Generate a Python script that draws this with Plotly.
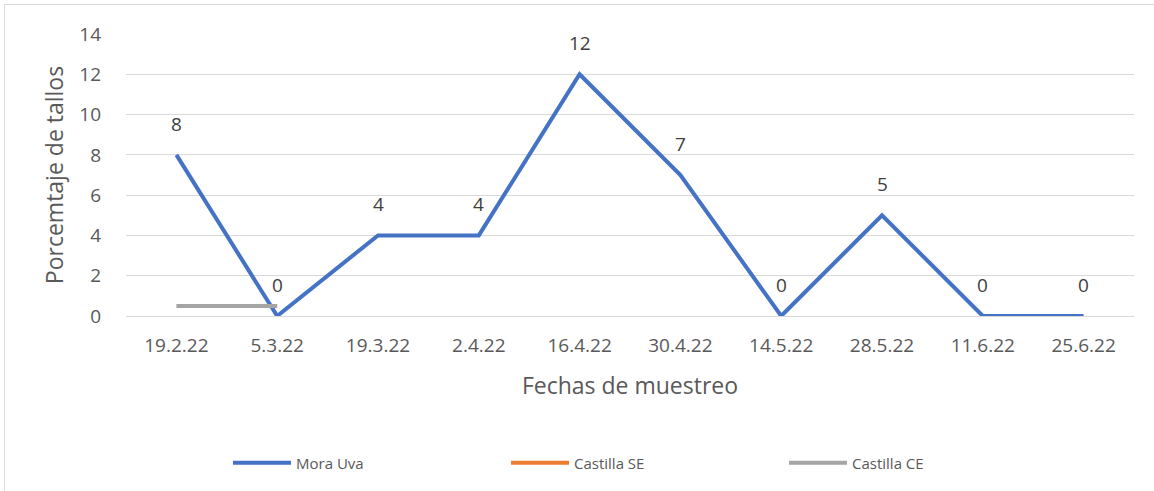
import plotly.graph_objects as go

fechas = ["19.2.22", "5.3.22", "19.3.22", "2.4.22", "16.4.22", "30.4.22",
          "14.5.22", "28.5.22", "11.6.22", "25.6.22"]
mora_uva = [8, 0, 4, 4, 12, 7, 0, 5, 0, 0]
castilla_se = [None] * 10
castilla_ce = [0.5, 0.5, None, None, None, None, None, None, None, None]

W, H = 1154, 491
ml, mr, mt, mb = 126, 20, 34, 175
font = "Open Sans"

fig = go.Figure()
fig.add_trace(go.Scatter(x=fechas, y=mora_uva, mode="lines", name="Mora Uva",
                         line=dict(color="#4472C4", width=4)))
fig.add_trace(go.Scatter(x=fechas, y=castilla_se, mode="lines", name="Castilla SE",
                         line=dict(color="#ED7D31", width=4)))
fig.add_trace(go.Scatter(x=fechas, y=castilla_ce, mode="lines", name="Castilla CE",
                         line=dict(color="#A5A5A5", width=4)))

for f, v in zip(fechas, mora_uva):
    fig.add_annotation(x=f, y=v, text=str(v), showarrow=False, yshift=31,
                       font=dict(family=font, size=19, color="#404040"))

pw = W - ml - mr
ph = H - mt - mb
x0 = (4.5 - ml) / pw
x1 = (W + 10 - ml) / pw
y1 = (H - mb - 4.5) / ph
y0 = (H - mb - (H + 10)) / ph
fig.add_shape(type="rect", xref="paper", yref="paper", x0=x0, x1=x1, y0=y0, y1=y1,
              line=dict(color="#d9d9d9", width=1), layer="below")

fig.update_layout(
    width=W, height=H,
    margin=dict(l=ml, r=mr, t=mt, b=mb, autoexpand=False),
    paper_bgcolor="white", plot_bgcolor="white",
    font=dict(family=font, color="#595959"),
    showlegend=True,
    legend=dict(orientation="h", x=(228 - ml) / pw, xanchor="left", y=(H - mb - 463) / ph,
                yanchor="middle", entrywidth=205, font=dict(size=15, color="#595959"),
                itemwidth=58),
    xaxis=dict(type="category", range=[-0.5, 9.5], automargin=False,
               showgrid=False, showline=False, zeroline=False,
               tickfont=dict(size=19, color="#595959"), ticks="", ticklabelstandoff=16,
               title=dict(text="Fechas de muestreo", font=dict(size=23, color="#595959"),
                          standoff=20)),
    yaxis=dict(range=[0, 14], dtick=2, automargin=False, showgrid=True, gridcolor="#d9d9d9",
               gridwidth=1, zeroline=True, zerolinecolor="#d9d9d9", zerolinewidth=1,
               showline=False,
               tickfont=dict(size=19, color="#595959"), ticks="", ticklabelstandoff=24,
               title=dict(text="Porcemtaje de tallos", font=dict(size=23, color="#595959"),
                          standoff=9)),
)

fig.write_html("out.html", config={"displayModeBar": False},
               post_script="document.body.style.margin='0';")
